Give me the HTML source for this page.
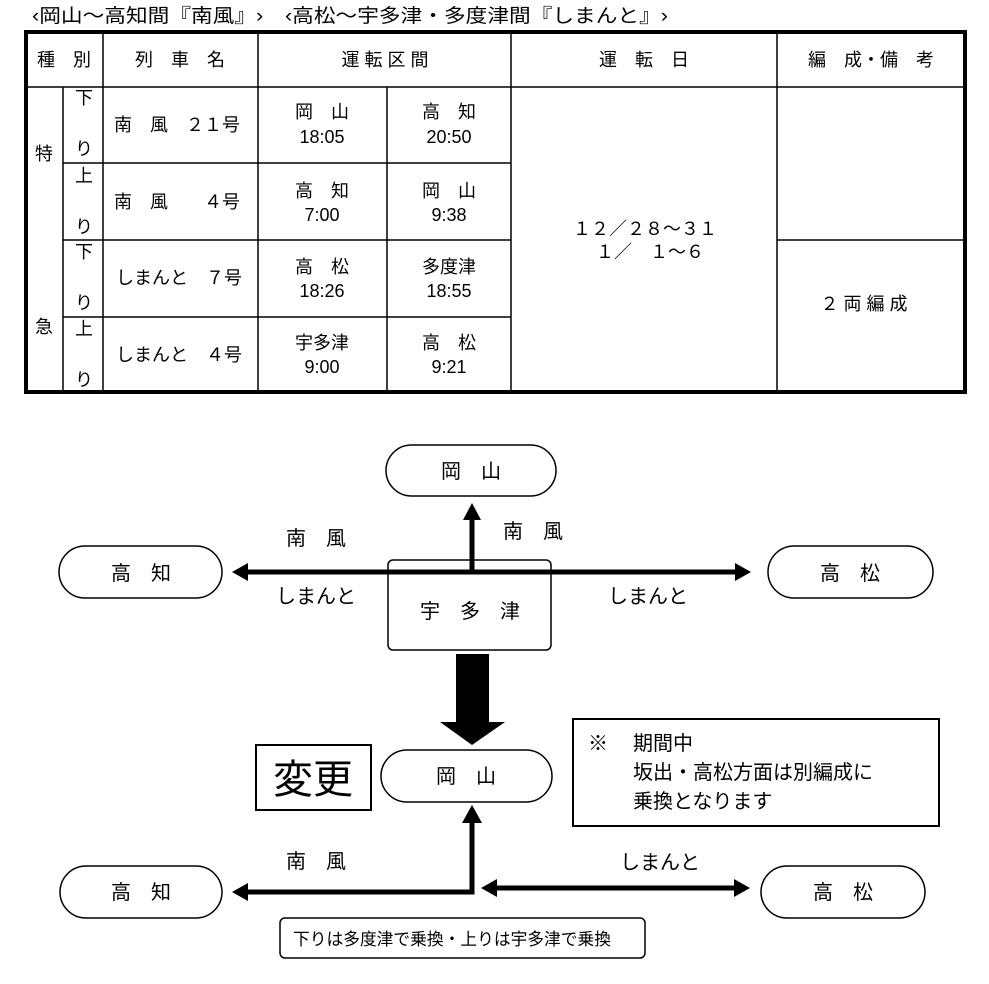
<!DOCTYPE html>
<html><head><meta charset="utf-8"><style>
html,body{margin:0;padding:0;background:#fff;}
svg{display:block;}
text{font-family:"Liberation Sans","Noto Sans CJK JP",sans-serif;fill:#000;}
</style></head><body>
<svg width="989" height="984" viewBox="0 0 989 984" xmlns="http://www.w3.org/2000/svg">
<text x="32" y="22" font-size="19" textLength="636" lengthAdjust="spacingAndGlyphs">‹岡山～高知間『南風』›　‹高松～宇多津・多度津間『しまんと』›</text>
<g stroke="#000" stroke-width="1.5" fill="none">
<line x1="25" y1="87" x2="965" y2="87"/>
<line x1="63" y1="163" x2="511" y2="163"/>
<line x1="63" y1="240" x2="511" y2="240"/>
<line x1="777" y1="240" x2="965" y2="240"/>
<line x1="63" y1="317" x2="511" y2="317"/>
<line x1="63" y1="87" x2="63" y2="392"/>
<line x1="103" y1="31" x2="103" y2="392"/>
<line x1="258" y1="31" x2="258" y2="392"/>
<line x1="387" y1="87" x2="387" y2="392"/>
<line x1="511" y1="31" x2="511" y2="392"/>
<line x1="777" y1="31" x2="777" y2="392"/>
<rect x="26" y="32" width="939" height="360" stroke-width="4"/>
</g>
<g font-size="18" text-anchor="middle">
<text x="64" y="66">種　別</text>
<text x="180" y="66">列　車　名</text>
<text x="385" y="66" xml:space="preserve">運 転 区 間</text>
<text x="644" y="66" xml:space="preserve">運　転　日</text>
<text x="871" y="66">編　成・備　考</text>
<text x="44" y="160">特</text>
<text x="44" y="333">急</text>
<text x="84" y="104">下</text><text x="84" y="155">り</text>
<text x="84" y="182">上</text><text x="84" y="233">り</text>
<text x="84" y="258">下</text><text x="84" y="309">り</text>
<text x="84" y="335">上</text><text x="84" y="386">り</text>
<text x="322" y="118">岡　山</text><text x="322" y="143">18:05</text>
<text x="449" y="118">高　知</text><text x="449" y="143">20:50</text>
<text x="322" y="197">高　知</text><text x="322" y="221">7:00</text>
<text x="449" y="197">岡　山</text><text x="449" y="221">9:38</text>
<text x="322" y="273">高　松</text><text x="322" y="297">18:26</text>
<text x="449" y="273">多度津</text><text x="449" y="297">18:55</text>
<text x="322" y="349">宇多津</text><text x="322" y="373">9:00</text>
<text x="449" y="349">高　松</text><text x="449" y="373">9:21</text>
<text x="645" y="235">１２／２８～３１</text>
<text x="650" y="258">１／　１～６</text>
<text x="864" y="310">２ 両 編 成</text>
</g>
<g font-size="18">
<text x="114" y="131">南　風　２１号</text>
<text x="114" y="208">南　風　　４号</text>
<text x="116" y="284">しまんと　７号</text>
<text x="116" y="361">しまんと　４号</text>
</g>
<g stroke="#000" stroke-width="1.5" fill="#fff">
<rect x="386" y="445" width="170" height="51" rx="25.5"/>
<rect x="59" y="546" width="163" height="52" rx="26"/>
<rect x="768" y="546" width="165" height="52" rx="26"/>
<rect x="388" y="560" width="163" height="90" rx="5"/>
<rect x="381" y="750" width="171" height="52" rx="26"/>
<rect x="60" y="866" width="162" height="52" rx="26"/>
<rect x="761" y="866" width="164" height="52" rx="26"/>
<rect x="280" y="918" width="365" height="40" rx="5"/>
</g>
<rect x="256" y="745" width="115" height="65" fill="none" stroke="#000" stroke-width="2"/>
<rect x="573" y="719" width="366" height="107" fill="none" stroke="#000" stroke-width="2"/>
<g stroke="#000" stroke-width="5" fill="none">
<line x1="247" y1="572" x2="736" y2="572"/>
<line x1="472" y1="572" x2="472" y2="518"/>
<polyline points="472,820 472,892 247,892"/>
<line x1="496" y1="888" x2="735" y2="888"/>
</g>
<g fill="#000">
<path d="M232,572 L248,563 L248,581 z"/>
<path d="M751,572 L735,563 L735,581 z"/>
<path d="M472,503 L463,520 L481,520 z"/>
<path d="M472,805 L462,823 L482,823 z"/>
<path d="M232,892 L248,883 L248,901 z"/>
<path d="M481,888 L497,879 L497,897 z"/>
<path d="M750,888 L734,879 L734,897 z"/>
<path d="M456,654 L489,654 L489,722 L505,722 L472,745 L440,722 L456,722 z"/>
</g>
<g font-size="20" text-anchor="middle">
<text x="471" y="478">岡　山</text>
<text x="141" y="580">高　知</text>
<text x="850" y="580">高　松</text>
<text x="470" y="618">宇　多　津</text>
<text x="466" y="783">岡　山</text>
<text x="141" y="899">高　知</text>
<text x="843" y="899">高　松</text>
<text x="316" y="545">南　風</text>
<text x="533" y="538">南　風</text>
<text x="316" y="603">しまんと</text>
<text x="648" y="603">しまんと</text>
<text x="316" y="868">南　風</text>
<text x="660" y="869">しまんと</text>
</g>
<text x="313" y="793" font-size="40" text-anchor="middle">変更</text>
<g font-size="20">
<text x="588" y="750">※</text>
<text x="633" y="750">期間中</text>
<text x="633" y="779">坂出・高松方面は別編成に</text>
<text x="633" y="808">乗換となります</text>
</g>
<text x="293" y="945" font-size="17" textLength="318" lengthAdjust="spacingAndGlyphs">下りは多度津で乗換・上りは宇多津で乗換</text>
</svg>
</body></html>
